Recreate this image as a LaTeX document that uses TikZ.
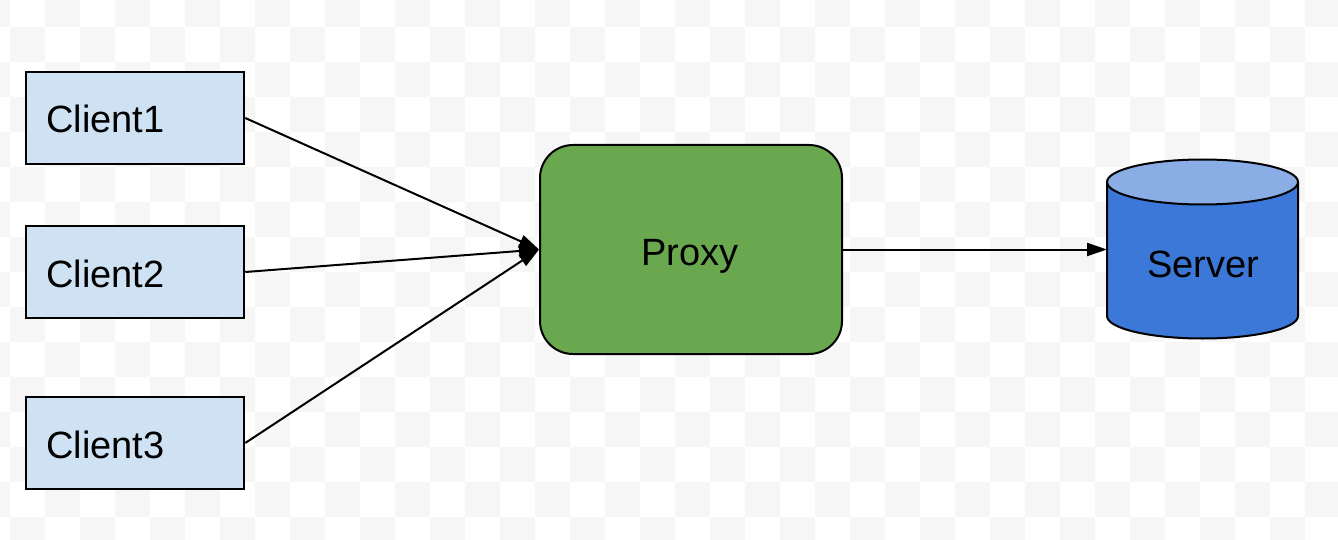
\documentclass[tikz,border=0pt]{standalone}
\usepackage{fontspec}
\setmainfont{Liberation Sans}
\usetikzlibrary{arrows.meta}
\definecolor{clientfill}{HTML}{CFE2F3}
\definecolor{proxyfill}{HTML}{6AA84F}
\definecolor{serverbody}{HTML}{3C78D8}
\definecolor{servertop}{HTML}{8AADE5}
\definecolor{checker}{HTML}{F6F6F6}
\tikzset{
  clientbox/.style={draw=black, line width=2.5pt, fill=clientfill, minimum width=218pt, minimum height=92pt, inner sep=0pt},
  proxybox/.style={draw=black, line width=2pt, fill=proxyfill, rounded corners=33pt, minimum width=302pt, minimum height=209pt, inner sep=0pt},
  lbl/.style={font=\fontsize{38}{40}\selectfont, inner sep=0pt},
  arr/.style={line width=2pt, -{Triangle[length=20pt, width=13pt]}, shorten >=0pt}
}
\begin{document}
\begin{tikzpicture}[x=1pt, y=-1pt]
\useasboundingbox (0,0) rectangle (1338,540);
\fill[white] (0,0) rectangle (1338,540);
\begin{scope}
\clip (0,0) rectangle (1338,540);
\foreach \j in {0,2,...,16}{
  \foreach \i in {-1,1,...,37}{
    \fill[checker] ({10+35*\i},{-8+35*\j}) rectangle +(35,35);
    \fill[checker] ({10+35*(\i+1)},{-8+35*(\j+1)}) rectangle +(35,35);
  }
}
\end{scope}
% clients
\node[clientbox] (c1) at (135,118) {};
\node[clientbox] (c2) at (135,272) {};
\node[clientbox] (c3) at (135,443) {};
\node[lbl, anchor=base west] (t1) at (46,133) {Client1};
\node[lbl, anchor=base west] (t2) at (46,287) {Client2};
\node[lbl, anchor=base west] (t3) at (46,458) {Client3};
% proxy
\node[proxybox] (px) at (691,249.5) {};
\node[lbl, anchor=base] (tp) at (690,265) {Proxy};
% server cylinder
\fill[serverbody] (1107,182) -- (1107,316) arc[start angle=180, end angle=360, x radius=95.5pt, y radius=22.5pt] -- (1298,182) -- cycle;
\draw[line width=2pt] (1107,182) -- (1107,316) arc[start angle=180, end angle=360, x radius=95.5pt, y radius=22.5pt] -- (1298,182);
\draw[line width=2pt, fill=servertop] (1202.5,182) ellipse[x radius=95.5pt, y radius=22.5pt];
\node[lbl, anchor=base] (srv) at (1203,277) {Server};
\coordinate (srvw) at (1107,249.5);
% connectors
\draw[arr] (c1.east) -- (px.west);
\draw[arr] (c2.east) -- (px.west);
\draw[arr] (c3.east) -- (px.west);
\draw[arr] (px.east) -- (srvw);
\end{tikzpicture}
\end{document}
